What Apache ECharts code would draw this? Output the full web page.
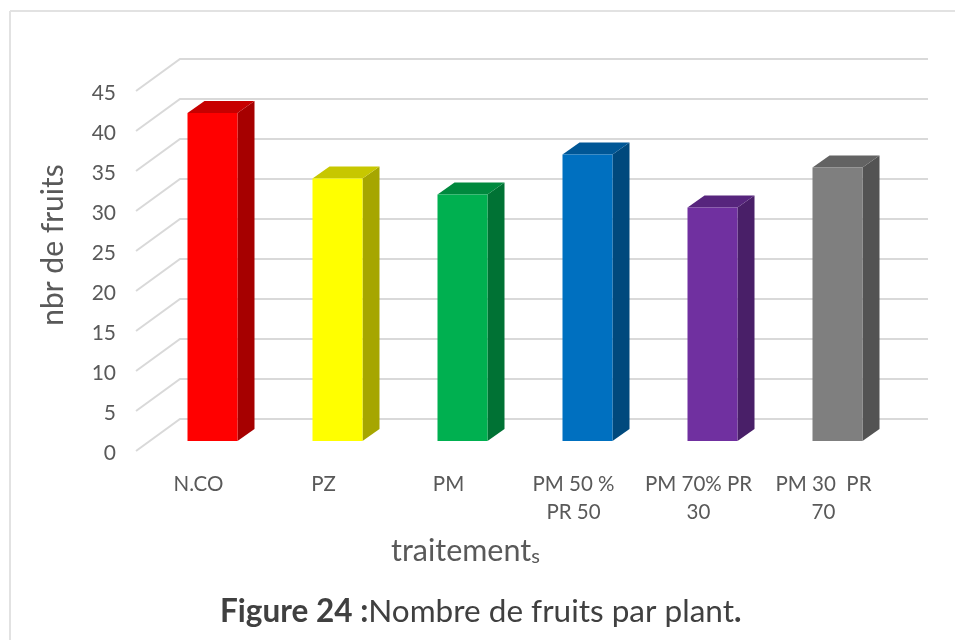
<!DOCTYPE html>
<html>
<head>
<meta charset="utf-8">
<script src="https://cdn.jsdelivr.net/npm/echarts@6/dist/echarts.min.js"></script>
<style>
html, body { margin: 0; padding: 0; background: #fff; }
#chart { width: 955px; height: 640px; }
</style>
</head>
<body>
<div id="chart"></div>
<script>
const categories = ['N.CO', 'PZ', 'PM', 'PM 50 %\nPR 50', 'PM 70% PR\n30', 'PM 30  PR\n70'];
const fruits = [41, 32.8, 30.8, 35.8, 29.2, 34.2];
const yTicks = [0, 5, 10, 15, 20, 25, 30, 35, 40, 45];
const barColors = ['#ff0000', '#ffff00', '#00b050', '#0070c0', '#7030a0', '#7f7f7f'];

const font = 'Lato, "Open Sans", sans-serif';
const textColor = '#595959';

// decalage du mur du fond par rapport a l'axe
const wallDx = 44, wallDy = 32;
// boite 3D des barres
const barW = 50, barDx = 17, barDy = 12, barShiftX = 14, barShiftY = 10;

// assombrit une couleur hex (k entre 0 et 1)
function shade(hex, k) {
  const n = parseInt(hex.slice(1), 16);
  const r = Math.round((n >> 16) * k);
  const g = Math.round(((n >> 8) & 255) * k);
  const b = Math.round((n & 255) * k);
  return 'rgb(' + r + ',' + g + ',' + b + ')';
}

function renderWall(params, api) {
  const cs = params.coordSys;
  const y = api.coord([0, api.value(0)])[1];
  return {
    type: 'polyline',
    shape: { points: [[cs.x, y], [cs.x + wallDx, y - wallDy], [cs.x + cs.width + wallDx - 2, y - wallDy]] },
    style: { fill: null, stroke: '#d9d9d9', lineWidth: 2 }
  };
}

function renderBar(params, api) {
  const i = api.value(0);
  const cx = api.coord([i, 0])[0] + barShiftX;
  const y0 = api.coord([i, 0])[1] - barShiftY;
  const y1 = api.coord([i, api.value(1)])[1] - barShiftY;
  const x0 = cx - barW / 2, x1 = cx + barW / 2;
  const color = barColors[i];
  return {
    type: 'group',
    children: [
      {
        type: 'polygon',
        shape: { points: [[x1, y0], [x1 + barDx, y0 - barDy], [x1 + barDx, y1 - barDy], [x1, y1]] },
        style: { fill: shade(color, 0.65) }
      },
      {
        type: 'polygon',
        shape: { points: [[x0, y1], [x0 + barDx, y1 - barDy], [x1 + barDx, y1 - barDy], [x1, y1]] },
        style: { fill: shade(color, 0.78) }
      },
      {
        type: 'rect',
        shape: { x: x0, y: y1, width: barW, height: y0 - y1 },
        style: { fill: color }
      }
    ]
  };
}

const myChart = echarts.init(document.getElementById('chart'), null, { renderer: 'canvas' });
myChart.setOption({
  animation: false,
  backgroundColor: '#fff',
  textStyle: { fontFamily: font },
  grid: { left: 136, top: 91, width: 750, height: 360 },
  xAxis: {
    type: 'category',
    data: categories,
    axisLine: { show: false },
    axisTick: { show: false },
    axisLabel: {
      interval: 0,
      margin: 19,
      fontSize: 20.5,
      lineHeight: 28,
      color: textColor,
      fontFamily: font
    }
  },
  yAxis: {
    type: 'value',
    min: 0,
    max: 45,
    interval: 5,
    axisLine: { show: false },
    axisTick: { show: false },
    splitLine: { show: false },
    axisLabel: {
      margin: 20,
      fontSize: 21,
      verticalAlign: 'top',
      lineHeight: 4,
      color: textColor,
      fontFamily: font
    }
  },
  title: [
    {
      text: '{a|traitement}{b|s}',
      left: 391,
      top: 536,
      padding: 0,
      textStyle: {
        fontWeight: 'normal',
        rich: {
          a: { fontSize: 30.5, color: textColor, fontFamily: font },
          b: { fontSize: 20, color: textColor, fontFamily: font, verticalAlign: 'bottom' }
        }
      }
    },
    {
      text: '{b|Figure 24 :}{a|Nombre de fruits par plant}{b|.}',
      left: 220,
      top: 596,
      padding: 0,
      textStyle: {
        fontWeight: 'normal',
        rich: {
          a: { fontSize: 31.5, color: '#404040', fontFamily: font, fontWeight: 'normal' },
          b: { fontSize: 31.5, color: '#404040', fontFamily: font, fontWeight: 'bold' }
        }
      }
    }
  ],
  graphic: [
    { type: 'line', shape: { x1: 10, y1: 11, x2: 955, y2: 11 }, style: { stroke: '#e2e2e2', lineWidth: 2 } },
    { type: 'line', shape: { x1: 10, y1: 11, x2: 10, y2: 640 }, style: { stroke: '#e2e2e2', lineWidth: 2 } },
    {
      type: 'text',
      x: 53,
      y: 245,
      rotation: Math.PI / 2,
      style: { text: 'nbr de fruits', font: '30px ' + font, fill: textColor, align: 'center', verticalAlign: 'middle' }
    }
  ],
  series: [
    {
      name: 'grille',
      type: 'custom',
      renderItem: renderWall,
      data: yTicks.map((t) => [t]),
      encode: { y: 0 },
      clip: false,
      silent: true,
      z: 1
    },
    {
      name: 'nbr de fruits',
      type: 'custom',
      renderItem: renderBar,
      data: fruits.map((v, i) => [i, v]),
      encode: { x: 0, y: 1 },
      clip: false,
      z: 2
    }
  ]
});
</script>
</body>
</html>
